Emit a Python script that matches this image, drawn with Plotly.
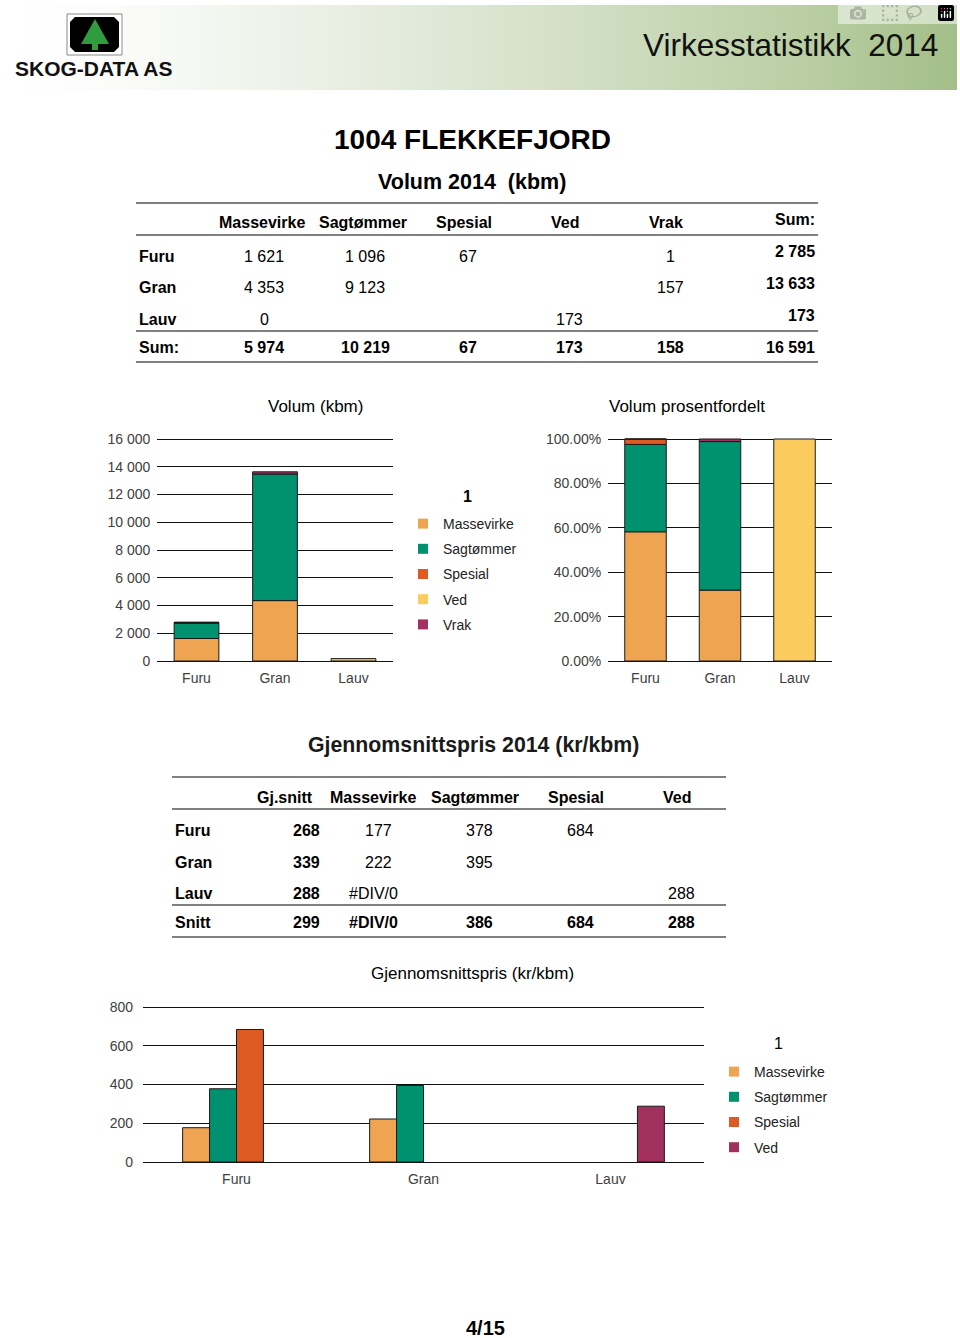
import plotly.graph_objects as go

W, H = 960, 1338
FONT = "Liberation Sans, Arial, sans-serif"

# ---------------- data ----------------
species = ["Furu", "Gran", "Lauv"]
assortments = ["Massevirke", "Sagtømmer", "Spesial", "Ved", "Vrak"]
vol_massevirke = [1621, 4353, 0]
vol_sagtommer = [1096, 9123, None]
vol_spesial = [67, None, None]
vol_ved = [None, None, 173]
vol_vrak = [1, 157, None]

price_headers = ["Gj.snitt", "Massevirke", "Sagtømmer", "Spesial", "Ved"]
price_gjsnitt = [268, 339, 288]
price_massevirke = [177, 222, None]
price_sagtommer = [378, 395, None]
price_spesial = [684, None, None]
price_ved = [None, None, 288]
price_massevirke_text = ["177", "222", "#DIV/0"]
snitt_row = ["299", "#DIV/0", "386", "684", "288"]

vol_ticks = [0, 2000, 4000, 6000, 8000, 10000, 12000, 14000, 16000]
pct_ticks = [0, 20, 40, 60, 80, 100]
price_ticks = [0, 200, 400, 600, 800]

vol_colors = ["#EFA452", "#00916E", "#DD5B22", "#FCCB5E", "#A2305F"]
price_names = ["Massevirke", "Sagtømmer", "Spesial", "Ved"]
price_colors = ["#EFA452", "#00916E", "#DD5B22", "#A2305F"]

volumes = [vol_massevirke, vol_sagtommer, vol_spesial, vol_ved, vol_vrak]
prices = [price_massevirke, price_sagtommer, price_spesial, price_ved]


def px(x):
    return x / W


def py(y):
    return 1 - y / H


def fmt(v):
    return "" if v is None else f"{v:,}".replace(",", " ")


fig = go.Figure()
annotations = []
shapes = []


def text(x, y, s, size=16, bold=False, anchor="center", color="#000000", family=FONT):
    annotations.append(dict(
        x=px(x), y=py(y), xref="paper", yref="paper", showarrow=False,
        text=f"<b>{s}</b>" if bold else s, xanchor=anchor, yanchor="middle",
        font=dict(size=size, color=color, family=family)))


def hline(y, x0, x1, color="#808080", width=2):
    shapes.append(dict(type="line", xref="paper", yref="paper",
                       x0=px(x0), x1=px(x1), y0=py(y), y1=py(y),
                       line=dict(color=color, width=width)))


# ---------------- header band ----------------
fig.add_trace(go.Heatmap(
    z=[[0, 1], [0, 1]], x=[0, 1], y=[0, 1], zsmooth="best", showscale=False,
    colorscale=[[0, "#ffffff"], [0.12, "#fbfcfa"], [0.35, "#e9efe3"],
                [0.6, "#d2dfc5"], [0.85, "#b8cea2"], [1, "#a3be88"]],
    hoverinfo="skip", xaxis="x4", yaxis="y4"))

# logo
shapes.append(dict(type="rect", xref="paper", yref="paper", x0=px(67), x1=px(122),
                   y0=py(55), y1=py(14), line=dict(color="#8a8a8a", width=1), fillcolor="#ffffff"))


def path(points, close=True):
    s = "M " + " L ".join(f"{px(a):.5f},{py(b):.5f}" for a, b in points)
    return s + (" Z" if close else "")


r = 5
bx0, bx1, by0, by1 = 70, 119, 17, 52
rounded = [(bx0 + r, by0), (bx1 - r, by0), (bx1, by0 + r), (bx1, by1 - r),
           (bx1 - r, by1), (bx0 + r, by1), (bx0, by1 - r), (bx0, by0 + r)]
shapes.append(dict(type="path", xref="paper", yref="paper", path=path(rounded),
                   fillcolor="#000000", line=dict(width=0)))
shapes.append(dict(type="path", xref="paper", yref="paper",
                   path=path([(95, 19), (109, 44), (81, 44)]),
                   fillcolor="#2f9d3e", line=dict(width=0)))
shapes.append(dict(type="rect", xref="paper", yref="paper", x0=px(92), x1=px(98),
                   y0=py(50), y1=py(44), fillcolor="#2f9d3e", line=dict(width=0)))
text(94, 68, "SKOG-DATA AS", size=21, bold=True, color="#111111")
text(940, 45, "Virkesstatistikk\u00a0 2014", size=31.5, anchor="right", color="#111111")

# ---------------- titles ----------------
text(472.5, 139, "1004 FLEKKEFJORD", size=28, bold=True)
text(472, 182, "Volum 2014\u00a0 (kbm)", size=21.5, bold=True)

# ---------------- table 1 ----------------
for yl in (203, 235, 331, 362):
    hline(yl, 136, 818)
head_x = [262, 363, 464, 565, 666]
val_x = [264, 365, 468, 569, 670]
for name, hx in zip(assortments, head_x):
    text(hx, 223, name, bold=True)
text(817, 219, "Sum:", bold=True, anchor="right")
row_y = [256, 287, 319]
sum_y = [251, 283, 315]
for i, sp in enumerate(species):
    text(137, row_y[i], sp, bold=True, anchor="left")
    tot = 0
    for j, vals in enumerate(volumes):
        if vals[i] is not None:
            text(val_x[j], row_y[i], fmt(vals[i]))
            tot += vals[i]
    text(817, sum_y[i], fmt(tot), bold=True, anchor="right")
text(137, 347, "Sum:", bold=True, anchor="left")
grand = 0
for j, vals in enumerate(volumes):
    s = sum(v for v in vals if v is not None)
    grand += s
    text(val_x[j], 347, fmt(s), bold=True)
text(817, 347, fmt(grand), bold=True, anchor="right")

# ---------------- chart 1: stacked volume ----------------
base = [0, 0, 0]
for name, vals, col in zip(assortments, volumes, vol_colors):
    fig.add_trace(go.Bar(
        x=species, y=vals, base=list(base), name=name, offsetgroup="vol", width=0.57,
        marker=dict(color=col, line=dict(color="#1a1a1a", width=1)),
        showlegend=False, xaxis="x", yaxis="y"))
    base = [b + (v or 0) for b, v in zip(base, vals)]
for name, col in zip(assortments, vol_colors):
    fig.add_trace(go.Scatter(
        x=[None], y=[None], mode="markers", name=name, legendgroup=name, legend="legend",
        marker=dict(symbol="square", size=10, color=col, line=dict(width=0)),
        xaxis="x", yaxis="y"))
text(467, 496, "1", size=16, bold=True)

# ---------------- chart 2: percent ----------------
totals = [sum((vals[i] or 0) for vals in volumes) for i in range(3)]
base = [0, 0, 0]
for name, vals, col in zip(assortments, volumes, vol_colors):
    pct = [None if v is None else v / t * 100 for v, t in zip(vals, totals)]
    fig.add_trace(go.Bar(
        x=species, y=pct, base=list(base), name=name, offsetgroup="pct", width=0.557,
        marker=dict(color=col, line=dict(color="#1a1a1a", width=1)),
        showlegend=False, xaxis="x2", yaxis="y2"))
    base = [b + (p or 0) for b, p in zip(base, pct)]

text(315, 406, "Volum (kbm)", size=17)
text(687, 406, "Volum prosentfordelt", size=17)

# ---------------- table 2 ----------------
text(473, 745, "Gjennomsnittspris 2014 (kr/kbm)", size=21.3, bold=True, color="#1a1a1a")
for yl in (777, 809, 905, 937):
    hline(yl, 172, 726)
ph_x = [285, 373, 475, 576, 677]
for name, hx in zip(price_headers, ph_x):
    text(hx, 798, name, bold=True)
p_row_y = [830, 862, 893]
num_x = [378, 479, 580, 681]
txt_x = [373, 475, 576, 677]
for i, sp in enumerate(species):
    text(173, p_row_y[i], sp, bold=True, anchor="left")
    text(322, p_row_y[i], str(price_gjsnitt[i]), bold=True, anchor="right")
    cells = [price_massevirke_text[i], fmt(price_sagtommer[i]), fmt(price_spesial[i]), fmt(price_ved[i])]
    for j, c in enumerate(cells):
        if c:
            text(num_x[j] if c[0] != "#" else txt_x[j], p_row_y[i], c)
text(173, 922, "Snitt", bold=True, anchor="left")
text(322, 922, snitt_row[0], bold=True, anchor="right")
for j, c in enumerate(snitt_row[1:]):
    text(num_x[j] if c[0] != "#" else txt_x[j], 922, c, bold=True)

# ---------------- chart 3: grouped prices ----------------
for name, vals, col in zip(price_names, prices, price_colors):
    fig.add_trace(go.Bar(
        x=species, y=vals, name=name,
        marker=dict(color=col, line=dict(color="#1a1a1a", width=1)),
        showlegend=False, xaxis="x3", yaxis="y3"))
for name, col in zip(price_names, price_colors):
    fig.add_trace(go.Scatter(
        x=[None], y=[None], mode="markers", name=name, legendgroup=name, legend="legend2",
        marker=dict(symbol="square", size=10, color=col, line=dict(width=0)),
        xaxis="x3", yaxis="y3"))
text(778, 1043, "1", size=16)
text(472, 974, "Gjennomsnittspris (kr/kbm)", size=17)

text(485, 1328, "4/15", size=20, bold=True)

# ---------------- axes ----------------
tickfont = dict(size=14, color="#404040", family=FONT)
xcommon = dict(type="category", categoryorder="array", categoryarray=species,
               range=[-0.5, 2.5], showgrid=False, showline=False, zeroline=False,
               ticks="", tickfont=tickfont, ticklabelstandoff=7, fixedrange=True)
ycommon = dict(showgrid=True, gridcolor="#111111", gridwidth=1.3, zeroline=True,
               zerolinecolor="#111111", zerolinewidth=1.3, showline=False, ticks="",
               tickfont=tickfont, fixedrange=True)

EXT = 2  # px of headroom so the top gridline is drawn


def ydom(bottom, top):
    return [py(bottom), py(top - EXT)]


def ytop(vmax, bottom, top):
    return vmax * (bottom - top + EXT) / (bottom - top)


fig.update_layout(
    width=W, height=H, margin=dict(l=0, r=0, t=0, b=0, autoexpand=False),
    paper_bgcolor="#ffffff", plot_bgcolor="rgba(0,0,0,0)",
    font=dict(family=FONT, color="#000000"),
    separators=". ",
    barmode="group", bargap=0.424, bargroupgap=0,
    xaxis=dict(domain=[px(157.25), px(392.75)], anchor="y", **xcommon),
    yaxis=dict(domain=ydom(661, 439), anchor="x", range=[0, ytop(16000, 661, 439)],
               tickvals=vol_ticks, ticktext=[fmt(v) for v in vol_ticks],
               ticklabelstandoff=6, **ycommon),
    xaxis2=dict(domain=[px(608.25), px(831.75)], anchor="y2", **xcommon),
    yaxis2=dict(domain=ydom(661, 439), anchor="x2", range=[0, ytop(100, 661, 439)],
                tickvals=pct_ticks, ticktext=[f"{v:.2f}%" for v in pct_ticks],
                ticklabelstandoff=6, **ycommon),
    xaxis3=dict(domain=[px(143), px(704)], anchor="y3", **xcommon),
    yaxis3=dict(domain=ydom(1162, 1007), anchor="x3", range=[0, ytop(800, 1162, 1007)],
                tickvals=price_ticks, ticktext=[str(v) for v in price_ticks],
                ticklabelstandoff=9, **ycommon),
    xaxis4=dict(domain=[px(3), px(957)], anchor="y4", range=[0, 1], visible=False, fixedrange=True),
    yaxis4=dict(domain=[py(90), py(5)], anchor="x4", range=[0, 1], visible=False, fixedrange=True),
    legend=dict(x=px(403), y=py(508), xanchor="left", yanchor="top",
                font=dict(size=14, color="#222222", family=FONT), bgcolor="rgba(0,0,0,0)",
                traceorder="grouped", tracegroupgap=4, itemwidth=30),
    legend2=dict(x=px(714), y=py(1056), xanchor="left", yanchor="top",
                 font=dict(size=14, color="#222222", family=FONT), bgcolor="rgba(0,0,0,0)",
                 traceorder="grouped", tracegroupgap=4, itemwidth=30),
    annotations=annotations, shapes=shapes,
)

fig.write_html("out.html", post_script="document.body.style.margin='0';")
